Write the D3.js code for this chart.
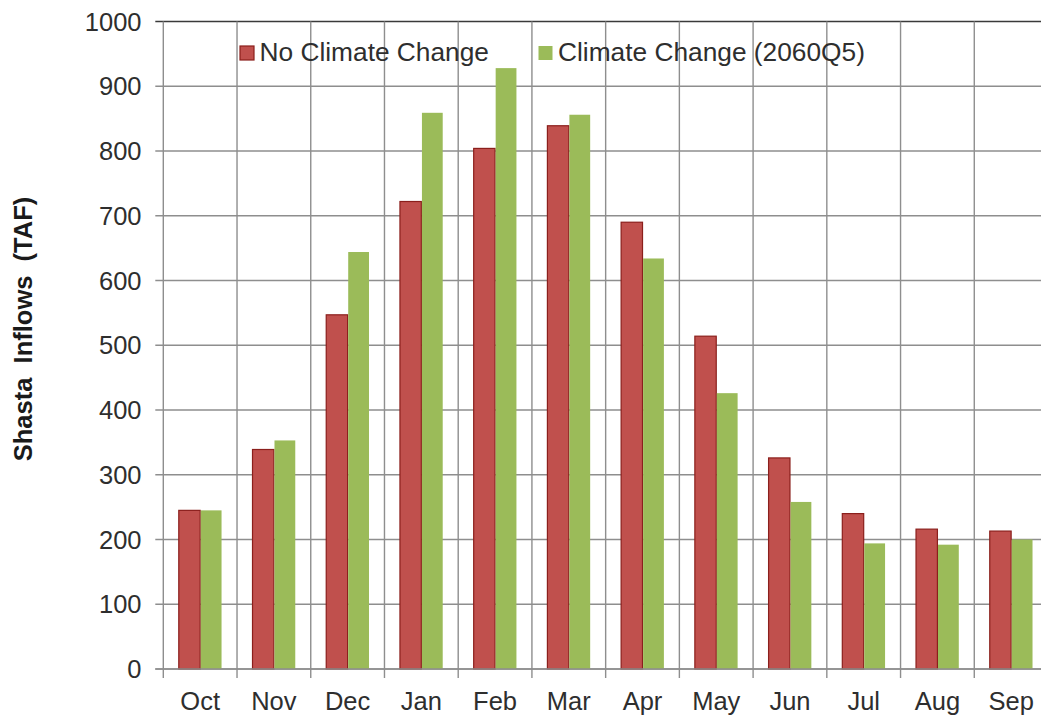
<!DOCTYPE html>
<html>
<head>
<meta charset="utf-8">
<script src="https://cdn.jsdelivr.net/npm/d3@7"></script>
<style>
  html, body { margin: 0; padding: 0; background: #fff; }
  svg { display: block; font-family: "Liberation Sans", Arial, sans-serif; }
</style>
</head>
<body>
<svg id="chart" width="1041" height="715"></svg>
<script>
// Monthly Shasta inflows (TAF), water year order
const months = ["Oct", "Nov", "Dec", "Jan", "Feb", "Mar", "Apr", "May", "Jun", "Jul", "Aug", "Sep"];
const noClimateChange = [245, 339, 547, 722, 804, 839, 690, 514, 326, 240, 216, 213];
const climateChange2060 = [245, 353, 644, 859, 928, 856, 634, 426, 258, 194, 192, 200];
const yTicks = [0, 100, 200, 300, 400, 500, 600, 700, 800, 900, 1000];
const seriesNames = ["No Climate Change", "Climate Change (2060Q5)"];

const svg = d3.select("#chart");
const plot = { left: 163.3, right: 1048, top: 21.5, bottom: 669 };

const x = d3.scaleBand().domain(months).range([plot.left, plot.right]).paddingInner(0).paddingOuter(0);
const y = d3.scaleLinear().domain([0, 1000]).range([plot.bottom, plot.top]);

const gridColor = "#8e8e8e";
const textColor = "#2e2e2e";
const red = "#c0504d", redEdge = "#8b1f1c", green = "#9bbb59";

// horizontal gridlines with outward tick marks
svg.append("g")
  .selectAll("line")
  .data(yTicks)
  .join("line")
  .attr("x1", plot.left - 8)
  .attr("x2", plot.right)
  .attr("y1", d => y(d))
  .attr("y2", d => y(d))
  .attr("stroke", d => d === 1000 ? "#3a3a3a" : gridColor)
  .attr("stroke-width", 1.4);

// vertical gridlines at category boundaries, extending below the baseline
const bounds = months.map(m => x(m)).concat([plot.right]);
svg.append("g")
  .selectAll("line")
  .data(bounds)
  .join("line")
  .attr("x1", d => d)
  .attr("x2", d => d)
  .attr("y1", plot.top)
  .attr("y2", plot.bottom + 9)
  .attr("stroke", gridColor)
  .attr("stroke-width", 1.4);

// bars
const barW = x.bandwidth() * 0.29;
const groupOffset = (x.bandwidth() - 2 * barW) / 2;

svg.append("g")
  .selectAll("rect")
  .data(months.map((m, i) => ({ m, v: noClimateChange[i] })))
  .join("rect")
  .attr("x", d => x(d.m) + groupOffset)
  .attr("y", d => y(d.v))
  .attr("width", barW)
  .attr("height", d => y(0) - y(d.v))
  .attr("fill", red)
  .attr("stroke", redEdge)
  .attr("stroke-width", 1.2);

svg.append("g")
  .selectAll("rect")
  .data(months.map((m, i) => ({ m, v: climateChange2060[i] })))
  .join("rect")
  .attr("x", d => x(d.m) + groupOffset + barW + 0.6)
  .attr("y", d => y(d.v))
  .attr("width", barW - 0.6)
  .attr("height", d => y(0) - y(d.v))
  .attr("fill", green);

// baseline redrawn on top of bars
svg.append("line")
  .attr("x1", plot.left - 8).attr("x2", plot.right)
  .attr("y1", y(0)).attr("y2", y(0))
  .attr("stroke", gridColor).attr("stroke-width", 1.4);

// y tick labels
svg.append("g")
  .selectAll("text")
  .data(yTicks)
  .join("text")
  .attr("x", 141.5)
  .attr("y", d => y(d))
  .attr("dy", "0.36em")
  .attr("text-anchor", "end")
  .attr("font-size", 25.5)
  .attr("fill", textColor)
  .text(d => d);

// x category labels
svg.append("g")
  .selectAll("text")
  .data(months)
  .join("text")
  .attr("x", d => x(d) + x.bandwidth() / 2)
  .attr("y", 710)
  .attr("text-anchor", "middle")
  .attr("font-size", 25.5)
  .attr("fill", textColor)
  .text(d => d);

// y axis title
svg.append("text")
  .attr("transform", "translate(32,329) rotate(-90)")
  .attr("text-anchor", "middle")
  .attr("font-size", 25.5)
  .attr("font-weight", "bold")
  .attr("fill", "#1a1a1a")
  .style("white-space", "pre")
  .text("Shasta  Inflows  (TAF)");

// legend
const legend = svg.append("g");
const legendItems = [
  { name: seriesNames[0], fill: red, stroke: redEdge, sx: 240, tx: 259.5 },
  { name: seriesNames[1], fill: green, stroke: "none", sx: 538.5, tx: 558 }
];
legendItems.forEach(it => {
  legend.append("rect")
    .attr("x", it.sx).attr("y", 46)
    .attr("width", 14).attr("height", 14)
    .attr("fill", it.fill)
    .attr("stroke", it.stroke)
    .attr("stroke-width", 1.2);
  legend.append("text")
    .attr("x", it.tx).attr("y", 61)
    .attr("font-size", 26.3)
    .attr("fill", textColor)
    .text(it.name);
});
</script>
</body>
</html>
